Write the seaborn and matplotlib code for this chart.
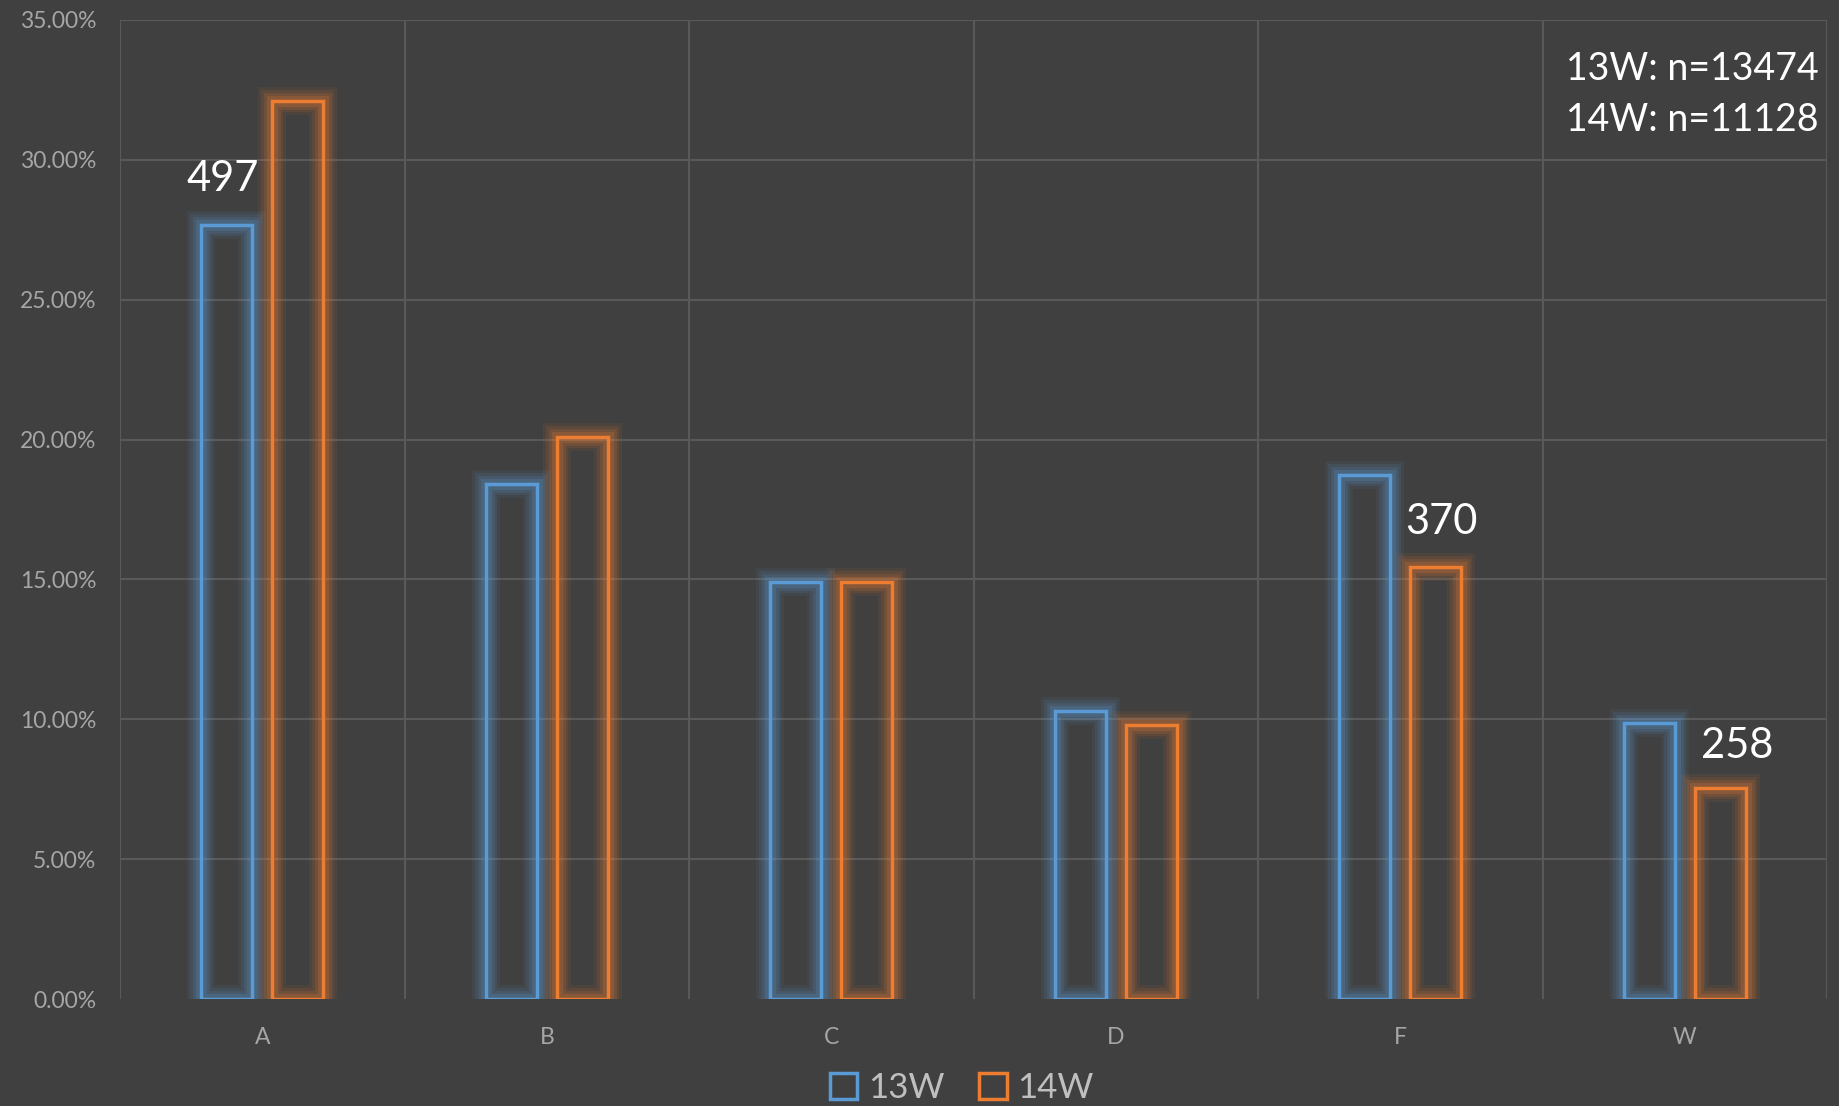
import numpy as np
import pandas as pd
import matplotlib.pyplot as plt
import matplotlib.patheffects as pe
from matplotlib.ticker import FuncFormatter, MultipleLocator
import seaborn as sns

categories = ["A", "B", "C", "D", "F", "W"]
share_13w = [27.67, 18.40, 14.92, 10.31, 18.74, 9.85]
share_14w = [32.11, 20.08, 14.92, 9.81, 15.43, 7.55]
series_names = ["13W", "14W"]
colors = ["#5B9BD5", "#ED7D31"]

# count labels shown above a few bars: (category index, x offset, y in %)
count_labels = ["497", "370", "258"]
count_pos = [(0, -0.14, 29.3), (4, 0.145, 17.05), (5, 0.185, 9.05)]
note_text = "13W: n=13474\n14W: n=11128"

bg = "#404040"
grid_col = "#595959"

df = pd.DataFrame({
    "cat": categories * 2,
    "series": [series_names[0]] * len(categories) + [series_names[1]] * len(categories),
    "val": share_13w + share_14w,
})

sns.set_style("dark")
plt.rcParams["font.family"] = ["Lato", "DejaVu Sans"]

fig = plt.figure(figsize=(18.39, 11.06), dpi=100, facecolor=bg)
ax = fig.add_axes([0.0653, 0.0967, 0.9282, 0.8853])
ax.set_facecolor(bg)

sns.barplot(data=df, x="cat", y="val", hue="series", palette=colors,
            fill=False, width=0.5, gap=0.28, linewidth=2.5, errorbar=None, ax=ax)

# soft glow around the bar outlines
for p in ax.patches:
    ec = p.get_edgecolor()
    p.set_path_effects([pe.Stroke(linewidth=20, foreground=ec, alpha=0.08),
                        pe.Stroke(linewidth=16, foreground=ec, alpha=0.10),
                        pe.Stroke(linewidth=12, foreground=ec, alpha=0.14),
                        pe.Stroke(linewidth=8, foreground=ec, alpha=0.2),
                        pe.Normal()])

ax.set_ylim(0, 35)
ax.set_xlim(-0.5, len(categories) - 0.5)
ax.yaxis.set_major_locator(MultipleLocator(5))
ax.yaxis.set_major_formatter(FuncFormatter(lambda v, _: f"{v:.2f}%"))
ax.set_xticks(np.arange(-0.5, len(categories), 1), minor=True)
ax.grid(axis="y", which="major", color=grid_col, linewidth=1.5)
ax.grid(axis="x", which="minor", color=grid_col, linewidth=1.5)
ax.grid(axis="x", which="major", visible=False)
ax.set_axisbelow(True)
for s in ax.spines.values():
    s.set_visible(False)
ax.tick_params(axis="both", which="both", length=0, colors="#A6A6A6", labelsize=16.5)
ax.tick_params(axis="y", pad=17)
ax.tick_params(axis="x", pad=20)
ax.set_xlabel("")
ax.set_ylabel("")
fig.canvas.draw()
for t in ax.yaxis.get_major_ticks():
    if abs(t.get_loc()) < 1e-9:
        t.gridline.set_visible(False)

for lbl, (ci, dx, yv) in zip(count_labels, count_pos):
    ax.text(ci + dx, yv, lbl, color="white", fontsize=30, ha="center", va="center")

ax.text(0.995, 0.968, note_text, transform=ax.transAxes, color="white",
        fontsize=27, ha="right", va="top", linespacing=1.5)

sns.move_legend(ax, "center", bbox_to_anchor=(0.493, -0.091), ncol=2,
                frameon=False, title=None, fontsize=25, labelcolor="#BFBFBF",
                handlelength=0.8, handleheight=0.8, handletextpad=0.3,
                columnspacing=1.0)

fig.savefig("out.png", dpi=100, facecolor=bg)
